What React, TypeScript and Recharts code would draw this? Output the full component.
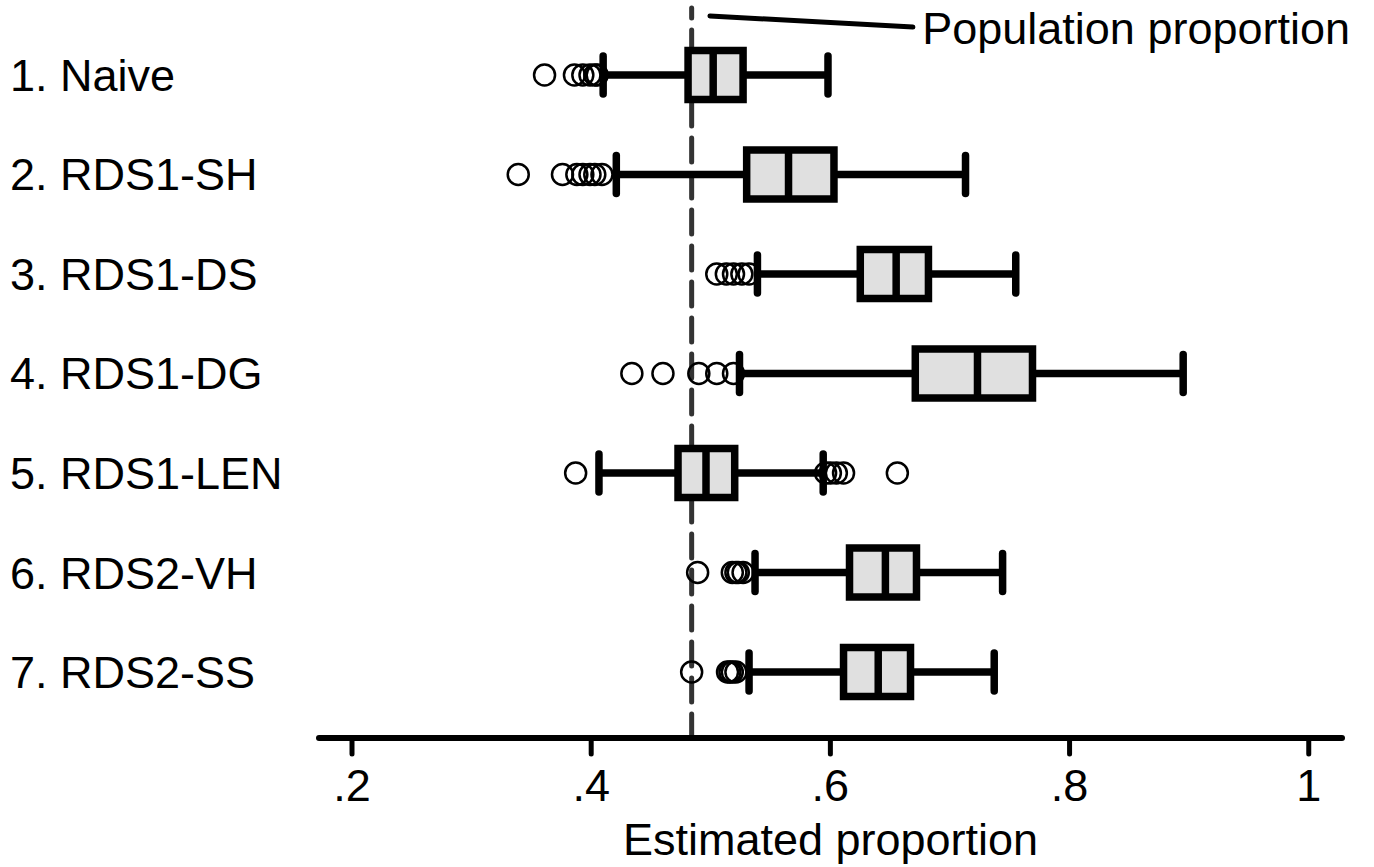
import {
  ScatterChart,
  Scatter,
  XAxis,
  YAxis,
  ReferenceArea,
  ReferenceLine,
  ReferenceDot
} from 'recharts'

const categories = [
  '1. Naive',
  '2. RDS1-SH',
  '3. RDS1-DS',
  '4. RDS1-DG',
  '5. RDS1-LEN',
  '6. RDS2-VH',
  '7. RDS2-SS'
]

// box plot summaries, one entry per estimator
const whiskerLow = [0.41, 0.421, 0.539, 0.524, 0.4065, 0.537, 0.532]
const q1 = [0.481, 0.53, 0.625, 0.671, 0.4726, 0.616, 0.611]
const medians = [0.502, 0.565, 0.655, 0.723, 0.496, 0.646, 0.64]
const q3 = [0.527, 0.603, 0.682, 0.769, 0.52, 0.672, 0.667]
const whiskerHigh = [0.598, 0.713, 0.755, 0.895, 0.594, 0.744, 0.737]

const outliers = [
  [0.361, 0.386, 0.393, 0.399, 0.403, 0.405],
  [0.339, 0.376, 0.388, 0.393, 0.399, 0.403, 0.409],
  [0.505, 0.513, 0.519, 0.526, 0.532],
  [0.434, 0.46, 0.49, 0.505, 0.519],
  [0.387, 0.596, 0.6, 0.605, 0.611, 0.656],
  [0.489, 0.518, 0.521, 0.523, 0.527],
  [0.484, 0.514, 0.516, 0.518, 0.521]
]

const populationProportion = 0.484
const xTicks = [0.2, 0.4, 0.6, 0.8, 1]

const FONT = '"Liberation Sans", Arial, sans-serif'
const BOX_HALF = 0.246
const CAP_HALF = 0.19
const LINE_W = 7.5

export default function App() {
  const points = outliers.flatMap((row, i) =>
    row.map((x) => ({ x, y: i + 1 }))
  )

  const renderCategory = ({ y, payload }: any) => (
    <text
      x={10}
      y={y}
      dy={16}
      textAnchor="start"
      fontSize={45}
      fontFamily={FONT}
      fill="#000">
      {categories[payload.value - 1]}
    </text>
  )

  return (
    <div style={{ position: 'absolute', left: 0, top: 0, background: '#fff' }}>
      <ScatterChart
        width={1374}
        height={867}
        margin={{ top: 8, right: 32, bottom: 0, left: 0 }}>
        <XAxis
          type="number"
          dataKey="x"
          domain={[0.1724, 1.0278]}
          ticks={xTicks}
          allowDataOverflow
          height={129}
          tickSize={16}
          tickMargin={15}
          tickFormatter={(v: number) => String(v).replace(/^0/, '')}
          tick={{ fontSize: 45, fill: '#000', fontFamily: FONT }}
          axisLine={{ stroke: '#000', strokeWidth: 6, strokeLinecap: 'round' }}
          tickLine={{ stroke: '#000', strokeWidth: 5, strokeLinecap: 'round' }}
          label={{
            value: 'Estimated proportion',
            position: 'insideBottom',
            offset: 12,
            fontSize: 45,
            fill: '#000',
            fontFamily: FONT
          }}
        />
        <YAxis
          type="number"
          dataKey="y"
          domain={[0.327, 7.663]}
          reversed
          ticks={[1, 2, 3, 4, 5, 6, 7]}
          width={319}
          axisLine={false}
          tickLine={false}
          tick={renderCategory}
        />

        <ReferenceLine
          x={populationProportion}
          stroke="#333"
          strokeWidth={5}
          strokeDasharray="24 12"
          strokeLinecap="round"
          zIndex={50}
        />

        {categories.map((c, i) => (
          <ReferenceLine
            key={'wl' + c}
            segment={[
              { x: whiskerLow[i], y: i + 1 },
              { x: q1[i], y: i + 1 }
            ]}
            stroke="#000"
            strokeWidth={LINE_W}
            zIndex={60}
          />
        ))}
        {categories.map((c, i) => (
          <ReferenceLine
            key={'wh' + c}
            segment={[
              { x: q3[i], y: i + 1 },
              { x: whiskerHigh[i], y: i + 1 }
            ]}
            stroke="#000"
            strokeWidth={LINE_W}
            zIndex={60}
          />
        ))}
        {categories.map((c, i) => (
          <ReferenceArea
            key={'box' + c}
            x1={q1[i]}
            x2={q3[i]}
            y1={i + 1 - BOX_HALF}
            y2={i + 1 + BOX_HALF}
            fill="#e0e0e0"
            fillOpacity={1}
            stroke="#000"
            strokeWidth={LINE_W}
            zIndex={70}
          />
        ))}
        {categories.map((c, i) => (
          <ReferenceLine
            key={'med' + c}
            segment={[
              { x: medians[i], y: i + 1 - BOX_HALF },
              { x: medians[i], y: i + 1 + BOX_HALF }
            ]}
            stroke="#000"
            strokeWidth={LINE_W}
            zIndex={80}
          />
        ))}

        <Scatter
          data={points}
          isAnimationActive={false}
          zIndex={85}
          shape={(p: any) => (
            <circle
              cx={p.cx}
              cy={p.cy}
              r={10.5}
              fill="none"
              stroke="#000"
              strokeWidth={2.5}
            />
          )}
        />

        {categories.map((c, i) => (
          <ReferenceLine
            key={'capl' + c}
            segment={[
              { x: whiskerLow[i], y: i + 1 - CAP_HALF },
              { x: whiskerLow[i], y: i + 1 + CAP_HALF }
            ]}
            stroke="#000"
            strokeWidth={LINE_W}
            strokeLinecap="round"
            zIndex={90}
          />
        ))}
        {categories.map((c, i) => (
          <ReferenceLine
            key={'caph' + c}
            segment={[
              { x: whiskerHigh[i], y: i + 1 - CAP_HALF },
              { x: whiskerHigh[i], y: i + 1 + CAP_HALF }
            ]}
            stroke="#000"
            strokeWidth={LINE_W}
            strokeLinecap="round"
            zIndex={90}
          />
        ))}

        {/* pointer from the dashed line to its label */}
        <ReferenceLine
          segment={[
            { x: 0.4993, y: 0.407 },
            { x: 0.669, y: 0.518 }
          ]}
          stroke="#000"
          strokeWidth={5}
          strokeLinecap="round"
          zIndex={90}
        />
        <ReferenceDot
          x={0.6768}
          y={0.689}
          r={0}
          zIndex={90}
          shape={(p: any) => (
            <text
              x={p.cx}
              y={p.cy}
              fontSize={45}
              fontFamily={FONT}
              fill="#000">
              Population proportion
            </text>
          )}
        />
      </ScatterChart>
    </div>
  )
}
